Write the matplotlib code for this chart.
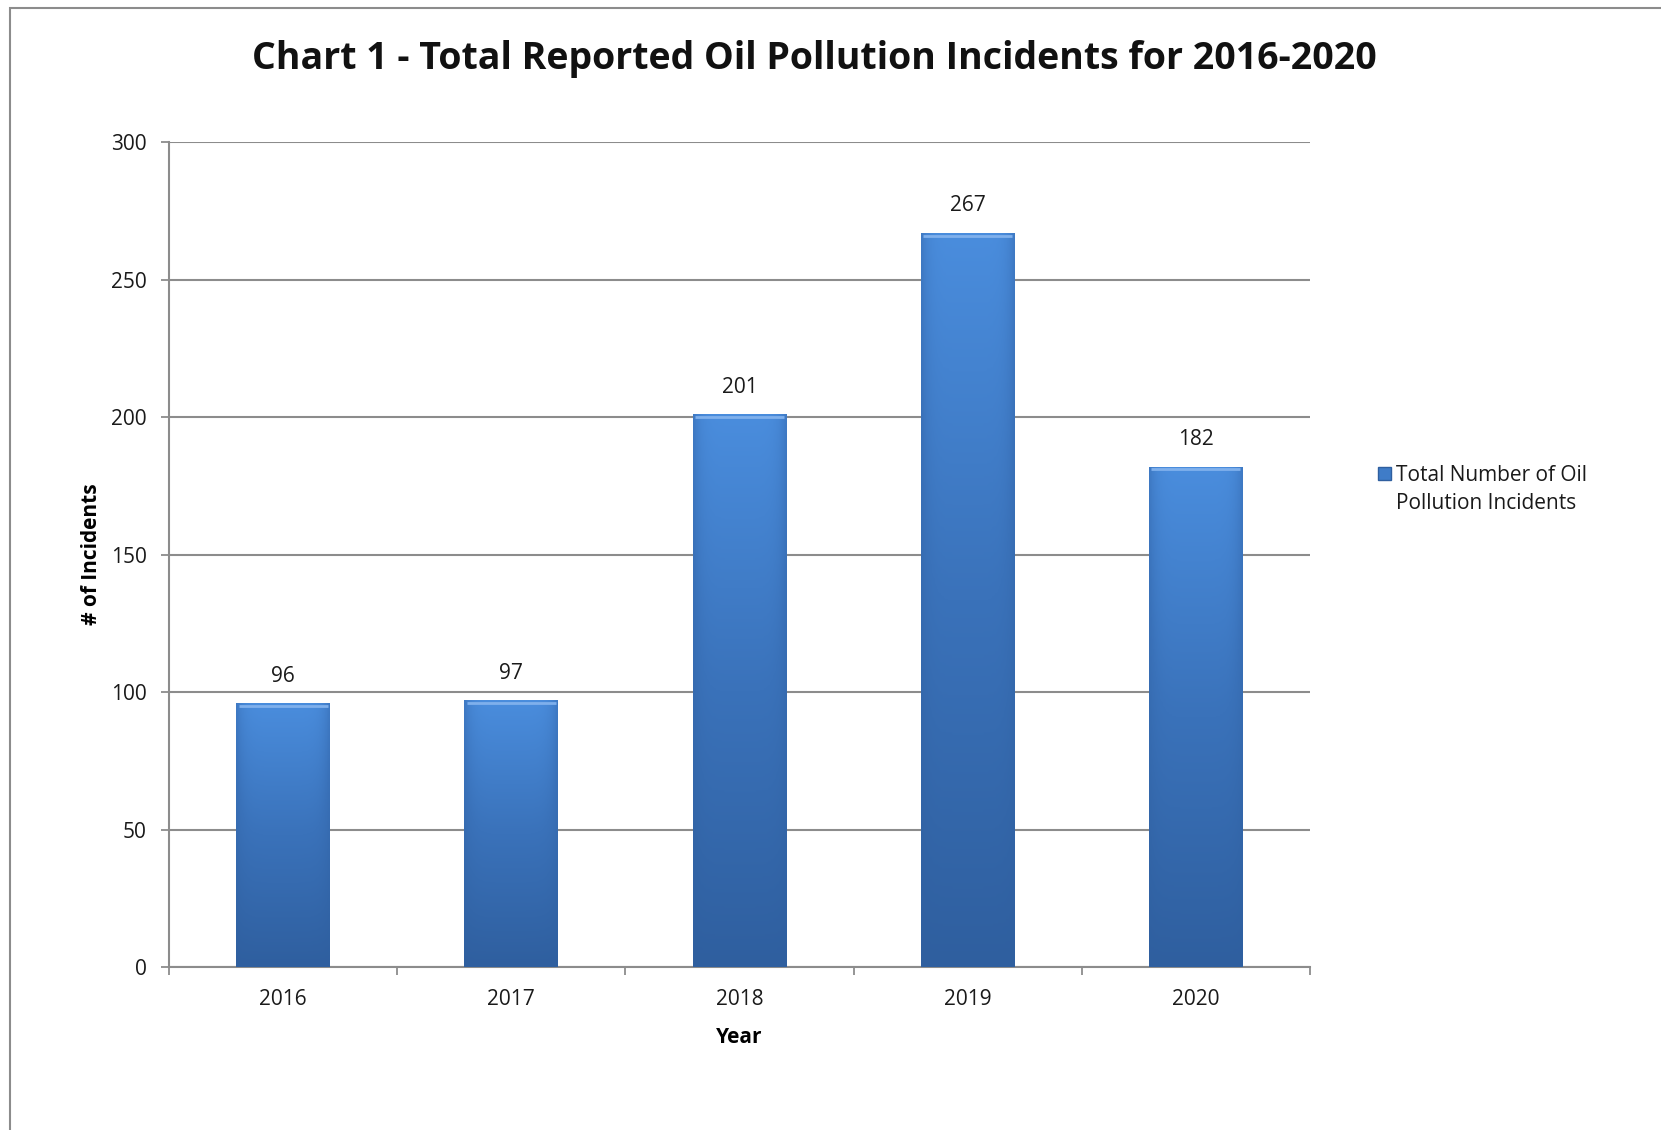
import matplotlib.pyplot as plt
import numpy as np
from matplotlib.colors import LinearSegmentedColormap
from matplotlib.patches import Rectangle

years = ["2016", "2017", "2018", "2019", "2020"]
incidents = [96, 97, 201, 267, 182]
series_name = "Total Number of Oil\nPollution Incidents"

plt.rcParams['font.family'] = ['Open Sans', 'DejaVu Sans']

fig = plt.figure(figsize=(16.61, 11.30), dpi=100)
ax = fig.add_axes([0.1017, 0.1442, 0.6870, 0.7301])

# outer chart frame
fig.patches.append(Rectangle((10 / 1661, -0.05), 1.2, 1 - 8 / 1130 + 0.05,
                             transform=fig.transFigure, fill=False,
                             edgecolor="#8c8c8c", linewidth=1.5))

x = np.arange(len(years))
width = 0.41
bars = ax.bar(x, incidents, width, color="#3f7cc8", zorder=3)

# gradient fill for each bar
cmap = LinearSegmentedColormap.from_list("barblue", ["#2f5f9f", "#3a72ba", "#4a8ddd"])
vert = np.linspace(0, 1, 200).reshape(-1, 1)
horiz = 1 - 0.35 * np.abs(np.linspace(-1, 1, 60)) ** 6
grad = vert * horiz
for b in bars:
    bx, by = b.get_x(), b.get_height()
    im = ax.imshow(grad, cmap=cmap, vmin=0, vmax=1, origin="lower", aspect="auto",
                   extent=[bx, bx + b.get_width(), 0, by], zorder=3)
    im.set_clip_path(b)
    # lighter bevel at top
    ax.plot([bx + 0.01, bx + b.get_width() - 0.01], [by - 1, by - 1],
            color="#7fb0ec", linewidth=2, zorder=4, solid_capstyle="butt")

for xi, v in zip(x, incidents):
    ax.text(xi, v + 6, str(v), ha="center", va="bottom", fontsize=15, color="#1a1a1a")

ax.set_xlim(-0.5, len(years) - 0.5)
ax.set_ylim(0, 300)
ax.set_yticks(np.arange(0, 301, 50))
ax.set_xticks(x)
ax.set_xticklabels(years)
ax.set_xticks(np.arange(-0.5, len(years), 1), minor=True)
ax.tick_params(axis="x", which="major", length=0, labelsize=15, pad=16, colors="#1a1a1a")
ax.tick_params(axis="x", which="minor", length=6, width=1.3, color="#8c8c8c", direction="out")
ax.tick_params(axis="y", length=6, width=1.3, color="#8c8c8c", labelsize=15, pad=10, labelcolor="#1a1a1a")

ax.grid(axis="y", color="#8c8c8c", linewidth=1.5, zorder=0)
for s in ["top", "right"]:
    ax.spines[s].set_visible(False)
for s in ["left", "bottom"]:
    ax.spines[s].set_color("#8c8c8c")
    ax.spines[s].set_linewidth(1.5)

ax.set_xlabel("Year", fontsize=15, fontweight="bold", labelpad=12)
ax.set_ylabel("# of Incidents", fontsize=15, fontweight="bold", labelpad=6)

fig.text(0.49, 0.948, "Chart 1 - Total Reported Oil Pollution Incidents for 2016-2020",
         ha="center", va="center", fontsize=27, fontweight="bold", color="#111111")

# legend: swatch beside the first line of the series name
fig.patches.append(Rectangle((1378 / 1661, 1 - 480 / 1130), 13 / 1661, 13 / 1130,
                             transform=fig.transFigure, facecolor="#3f7cc8",
                             edgecolor="#2f5f9f", linewidth=1))
fig.text(1396 / 1661, 1 - 465 / 1130, series_name, ha="left", va="top",
         fontsize=15, color="#1a1a1a", linespacing=1.45)

fig.savefig("out.png", dpi=100)
